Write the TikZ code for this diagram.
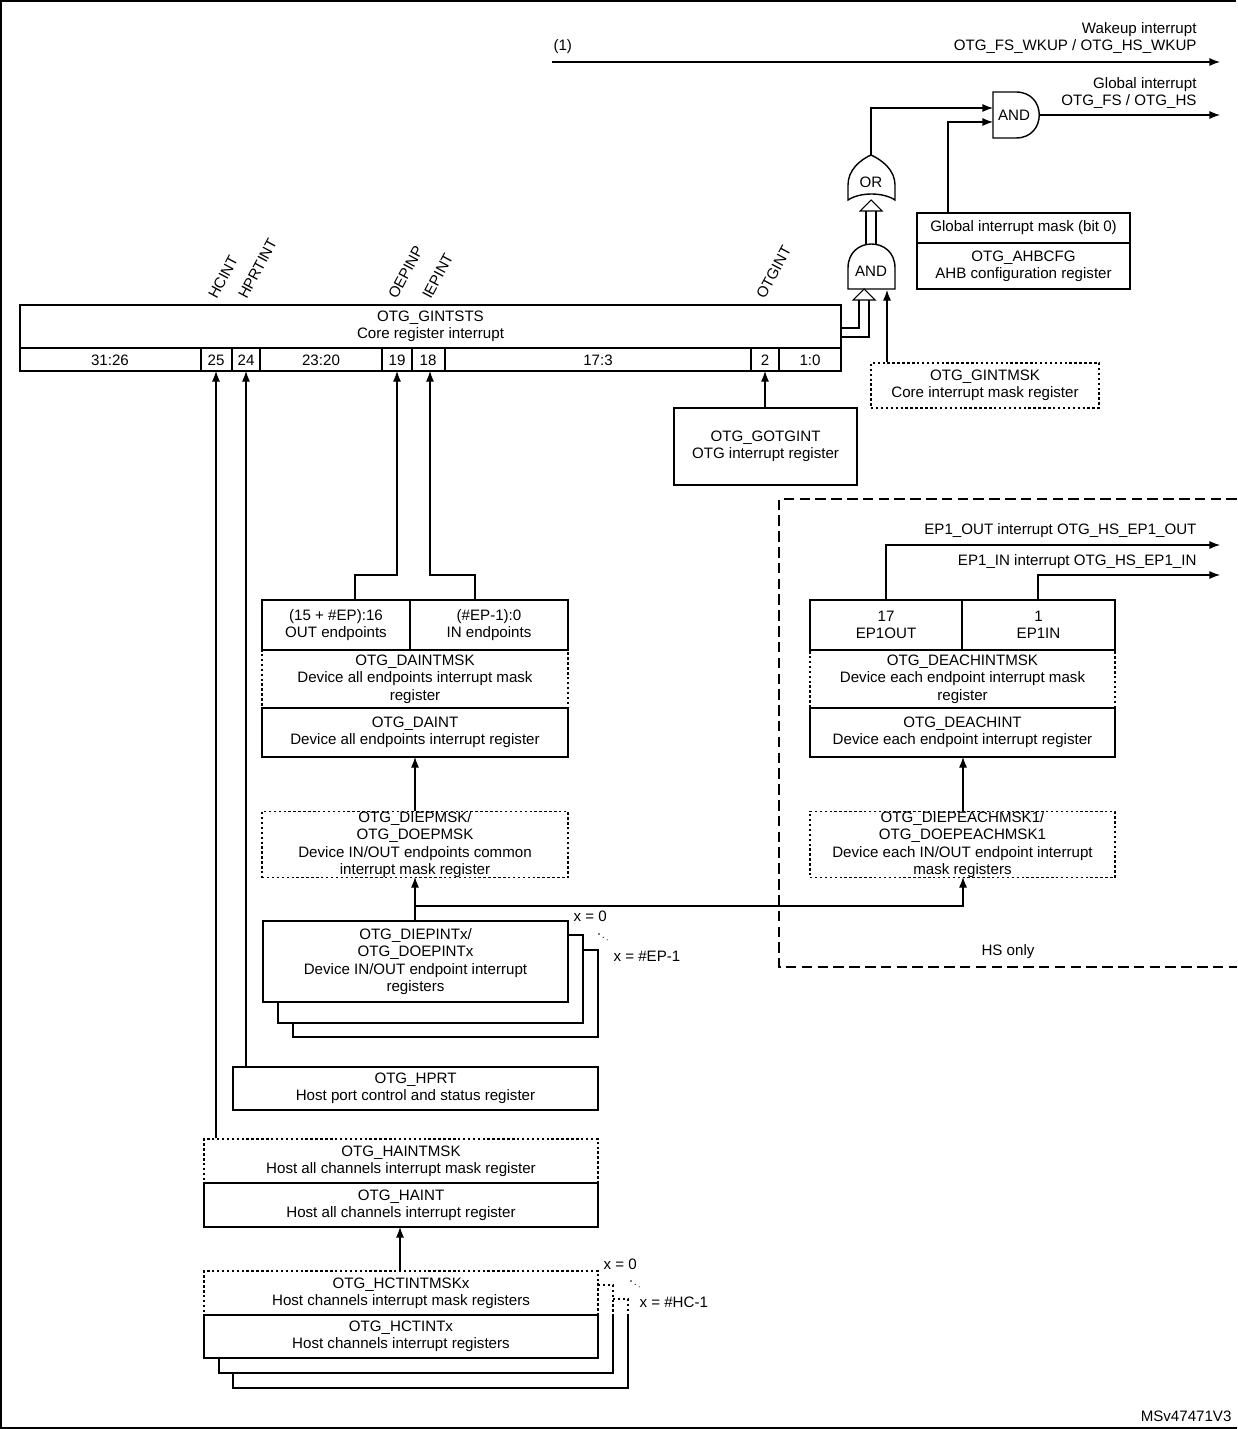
\documentclass[tikz,border=0pt]{standalone}
\usepackage{fontspec}
\setmainfont{Liberation Sans}
\usetikzlibrary{arrows.meta}
\begin{document}
\begin{tikzpicture}[x=0.02cm,y=-0.02cm,line width=0.6pt,
  font=\fontsize{8.6}{9.9}\selectfont,
  box/.style={draw,line width=0.8pt,inner sep=0pt,align=center},
  dbox/.style={box,dash pattern=on 1.4pt off 1.4pt},
  arr/.style={-{Latex[length=6pt,width=4.5pt]}},
  lab/.style={inner sep=0pt,align=right,anchor=east}]
\newcommand\bx[7]{\node[#6,minimum width={(#4-#2)*0.02cm},minimum height={(#5-#3)*0.02cm}] (#1) at ({(#2+#4)/2},{(#3+#5)/2}) {#7};}
\useasboundingbox (0,0) rectangle (1237,1429);
\draw (1,1429) -- (1,1) -- (1236,1) ;
\draw (1,1428) -- (1237,1428);
% wakeup
\coordinate (wk0) at (552,62); \coordinate (wk1) at (1220,62);
\draw[arr] (wk0) -- (wk1);
\node[inner sep=0pt,anchor=west] (one) at (553,47) {(1)};
\node[lab] (wkl) at (1197,38) {Wakeup interrupt\\OTG\_FS\_WKUP / OTG\_HS\_WKUP};
\node[lab] (gil) at (1197,93) {Global interrupt\\OTG\_FS / OTG\_HS};
% gates
\draw[line width=0.8pt] (993,92)--(1016,92) .. controls (1047,92) and (1047,138) .. (1016,138) -- (993,138) -- cycle;
\node[inner sep=0pt] (and1) at (1014,115) {AND};
\draw[line width=0.8pt] (848,289)--(848,268) .. controls (848,236) and (895,236) .. (895,268) -- (895,289) -- cycle;
\node[inner sep=0pt] (and2) at (871,271) {AND};
\draw[line width=0.8pt] (848,200) .. controls (860,192) and (883,192) .. (895,200) -- (895,185) .. controls (895,170) and (882,160) .. (871,155) .. controls (860,160) and (848,170) .. (848,185) -- cycle;
\node[inner sep=0pt] (or) at (871,182) {OR};
\coordinate (gout) at (1040,115); \coordinate (gend) at (1220,115);
\draw[arr] (gout) -- (gend);
\draw[arr] (871,155) |- (993,108);
% double arrows
\draw (866,245) -- (866,210) (876,245) -- (876,210);
\draw[fill=white] (860,211)--(871,200)--(882,211)--cycle;
\draw (841,328) -| (859,299) (841,337) -| (869,299);
\draw[fill=white] (853,300)--(864,289)--(875,300)--cycle;
% AHBCFG
\bx{gim}{917}{213}{1130}{243}{box}{Global interrupt mask (bit 0)}
\bx{ahb}{917}{243}{1130}{289}{box}{OTG\_AHBCFG\\AHB configuration register}
\draw[arr] (gim.north -| 948,0) |- (993,122);
\bx{gmsk}{871}{363}{1099}{408}{dbox}{OTG\_GINTMSK\\Core interrupt mask register}
\draw[arr] (gmsk.north -| 887,0) -- (887,290);
% GINTSTS
\bx{gsts}{20}{305}{841}{348}{box}{OTG\_GINTSTS\\Core register interrupt}
\draw[line width=0.8pt] (20,348) rectangle (841,371);
\foreach \xx in {201,232,260,382,412,445,751,779} \draw[line width=0.8pt] (\xx,348)--(\xx,371);
\foreach \t/\xx in {31:26/110,25/216,24/246,23:20/321,19/397,18/428,17:3/598,2/765,1:0/810}
  \node[inner sep=0pt] at (\xx,360) {\t};
\foreach \t/\xx in {HCINT/216,HPRTINT/246,OEPINP/396,IEPINT/430,OTGINT/764}
  \node[rotate=62,anchor=west,inner sep=0pt] at (\xx-4,298) {\t};
% GOTGINT
\bx{gotg}{674}{408}{857}{485}{box}{OTG\_GOTGINT\\OTG interrupt register}
\draw[arr] (gotg.north -| 765,0) -- (765,371);
% DAINT group
\bx{outep}{262}{600}{410}{650}{box}{(15 + \#EP):16\\OUT endpoints}
\bx{inep}{410}{600}{568}{650}{box}{(\#EP-1):0\\IN endpoints}
\bx{dmsk}{262}{650}{568}{708}{dbox}{OTG\_DAINTMSK\\Device all endpoints interrupt mask\\register}
\bx{daint}{262}{708}{568}{757}{box}{OTG\_DAINT\\Device all endpoints interrupt register}
\draw[arr] (outep.north -| 355,0) |- (397,575) -- (397,371);
\draw[arr] (inep.north -| 475,0) |- (430,575) -- (430,371);
\bx{diepmsk}{262}{812}{568}{877}{dbox}{OTG\_DIEPMSK/\\OTG\_DOEPMSK\\Device IN/OUT endpoints common\\interrupt mask register}
\draw[arr] (diepmsk.north -| 415,0) -- (415,757);
% DIEPINT stack
\draw[line width=0.8pt] (583,950) -| (598,1037) -| (293,1023);
\draw[line width=0.8pt] (568,935) -| (583,1023) -| (278,1002);
\bx{diepint}{263}{921}{568}{1002}{box}{OTG\_DIEPINTx/\\OTG\_DOEPINTx\\Device IN/OUT endpoint interrupt\\registers}
\node[inner sep=0pt,anchor=west] (x0a) at (573,916) {x = 0};
\node[inner sep=0pt] (dda) at (604,937) {$\cdot_{\cdot_{\cdot}}$};
\node[inner sep=0pt,anchor=west] (x1a) at (613,956) {x = \#EP-1};
\coordinate (jn) at (415,906);
\draw[arr] (diepint.north -| 415,0) -- (415,877);
\draw[arr] (jn) -| (963,877);
% HS only
\draw[dash pattern=on 6pt off 3pt] (1237,499) -- (779,499) -- (779,967) -- (1237,967);
\node[inner sep=0pt] (hs) at (1008,952) {HS only};
\bx{ep1out}{810}{600}{962}{650}{box}{17\\EP1OUT}
\bx{ep1in}{962}{600}{1115}{650}{box}{1\\EP1IN}
\bx{demsk}{810}{650}{1115}{708}{dbox}{OTG\_DEACHINTMSK\\Device each endpoint interrupt mask\\register}
\bx{deint}{810}{708}{1115}{757}{box}{OTG\_DEACHINT\\Device each endpoint interrupt register}
\bx{depmsk}{810}{812}{1115}{877}{dbox}{OTG\_DIEPEACHMSK1/\\OTG\_DOEPEACHMSK1\\Device each IN/OUT endpoint interrupt\\mask registers}
\draw[arr] (depmsk.north -| 963,0) -- (963,757);
\draw[arr] (ep1out.north -| 886,0) |- (1220,545);
\draw[arr] (ep1in.north -| 1038,0) |- (1220,575);
\node[lab] (l1) at (1197,531) {EP1\_OUT interrupt OTG\_HS\_EP1\_OUT};
\node[lab] (l2) at (1197,562) {EP1\_IN interrupt OTG\_HS\_EP1\_IN};
% host
\bx{hprt}{233}{1067}{598}{1110}{box}{OTG\_HPRT\\Host port control and status register}
\bx{haintmsk}{204}{1139}{598}{1183}{dbox}{OTG\_HAINTMSK\\Host all channels interrupt mask register}
\bx{haint}{204}{1183}{598}{1227}{box}{OTG\_HAINT\\Host all channels interrupt register}
\draw[arr] (haintmsk.north -| 216,0) -- (216,371);
\draw[arr] (hprt.north -| 246,0) -- (246,371);
\draw[dash pattern=on 1.4pt off 1.4pt,line width=0.8pt] (613,1299) -| (628,1315) (598,1285) -| (613,1315);
\draw[line width=0.8pt] (613,1315) -- (613,1373) -| (219,1358);
\draw[line width=0.8pt] (628,1315) -- (628,1388) -| (233,1373);
\bx{hcmsk}{204}{1271}{598}{1315}{dbox}{OTG\_HCTINTMSKx\\Host channels interrupt mask registers}
\bx{hcint}{204}{1315}{598}{1358}{box}{OTG\_HCTINTx\\Host channels interrupt registers}
\draw[arr] (hcmsk.north -| 400,0) -- (400,1227);
\node[inner sep=0pt,anchor=west] (x0b) at (603,1264) {x = 0};
\node[inner sep=0pt] (ddb) at (636,1284) {$\cdot_{\cdot_{\cdot}}$};
\node[inner sep=0pt,anchor=west] (x1b) at (639,1302) {x = \#HC-1};
\node[inner sep=0pt,anchor=east] (ms) at (1232,1416) {MSv47471V3};
\end{tikzpicture}
\end{document}
